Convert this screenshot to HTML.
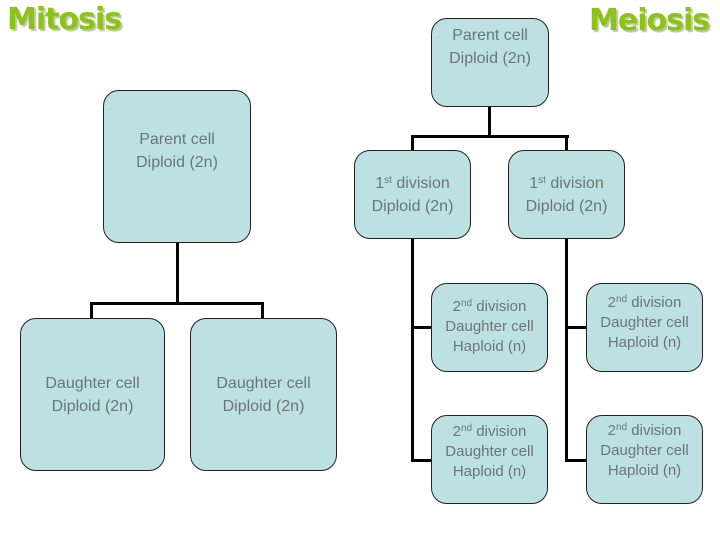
<!DOCTYPE html>
<html><head><meta charset="utf-8"><style>
body{margin:0;width:720px;height:540px;background:#fff;position:relative;overflow:hidden;font-family:"Liberation Sans",Arial,sans-serif}
.b{position:absolute;background:#bde0e3;border:1px solid #222;border-radius:16px;box-sizing:border-box;color:#6b7677;text-align:center;font-size:16px;line-height:23px}
.t{position:absolute;left:0;right:0}
.l{position:absolute;background:#000}
.h{position:absolute;font-weight:bold;font-size:30px;color:#8cc21a;text-shadow:2px 2px 1px #b9c9a0;font-family:"DejaVu Sans","Liberation Sans",sans-serif;letter-spacing:-1px}
sup{font-size:10px;line-height:0;vertical-align:5px}
.s{font-size:15px;line-height:20px}
</style></head><body>
<div class="h" style="left:7px;top:2px">Mitosis</div>
<div class="h" style="left:589px;top:3px">Meiosis</div>

<!-- mitosis connectors -->
<div class="l" style="left:176px;top:242px;width:3px;height:62px"></div>
<div class="l" style="left:90px;top:302px;width:174px;height:3px"></div>
<div class="l" style="left:90px;top:302px;width:3px;height:17px"></div>
<div class="l" style="left:261px;top:302px;width:3px;height:17px"></div>

<div class="b" style="left:103px;top:90px;width:148px;height:153px"><div class="t" style="top:37px">Parent cell<br>Diploid (2n)</div></div>
<div class="b" style="left:20px;top:318px;width:145px;height:153px"><div class="t" style="top:53px">Daughter cell<br>Diploid (2n)</div></div>
<div class="b" style="left:190px;top:318px;width:147px;height:153px"><div class="t" style="top:53px">Daughter cell<br>Diploid (2n)</div></div>

<!-- meiosis connectors -->
<div class="l" style="left:488px;top:105px;width:3px;height:33px"></div>
<div class="l" style="left:411px;top:135px;width:158px;height:3px"></div>
<div class="l" style="left:411px;top:135px;width:3px;height:17px"></div>
<div class="l" style="left:565px;top:135px;width:3px;height:17px"></div>
<div class="l" style="left:411px;top:237px;width:3px;height:225px"></div>
<div class="l" style="left:565px;top:237px;width:3px;height:225px"></div>
<div class="l" style="left:411px;top:326px;width:21px;height:3px"></div>
<div class="l" style="left:411px;top:459px;width:21px;height:3px"></div>
<div class="l" style="left:565px;top:326px;width:22px;height:3px"></div>
<div class="l" style="left:565px;top:459px;width:22px;height:3px"></div>

<div class="b" style="left:431px;top:18px;width:118px;height:89px"><div class="t" style="top:5px">Parent cell<br>Diploid (2n)</div></div>
<div class="b" style="left:354px;top:150px;width:117px;height:89px"><div class="t" style="top:21px">1<sup>st</sup> division<br>Diploid (2n)</div></div>
<div class="b" style="left:508px;top:150px;width:117px;height:89px"><div class="t" style="top:21px">1<sup>st</sup> division<br>Diploid (2n)</div></div>

<div class="b s" style="left:431px;top:283px;width:117px;height:89px"><div class="t" style="top:13px">2<sup>nd</sup> division<br>Daughter cell<br>Haploid (n)</div></div>
<div class="b s" style="left:586px;top:283px;width:117px;height:89px"><div class="t" style="top:9px">2<sup>nd</sup> division<br>Daughter cell<br>Haploid (n)</div></div>
<div class="b s" style="left:431px;top:415px;width:117px;height:89px"><div class="t" style="top:6px">2<sup>nd</sup> division<br>Daughter cell<br>Haploid (n)</div></div>
<div class="b s" style="left:586px;top:415px;width:117px;height:89px"><div class="t" style="top:5px">2<sup>nd</sup> division<br>Daughter cell<br>Haploid (n)</div></div>
</body></html>
